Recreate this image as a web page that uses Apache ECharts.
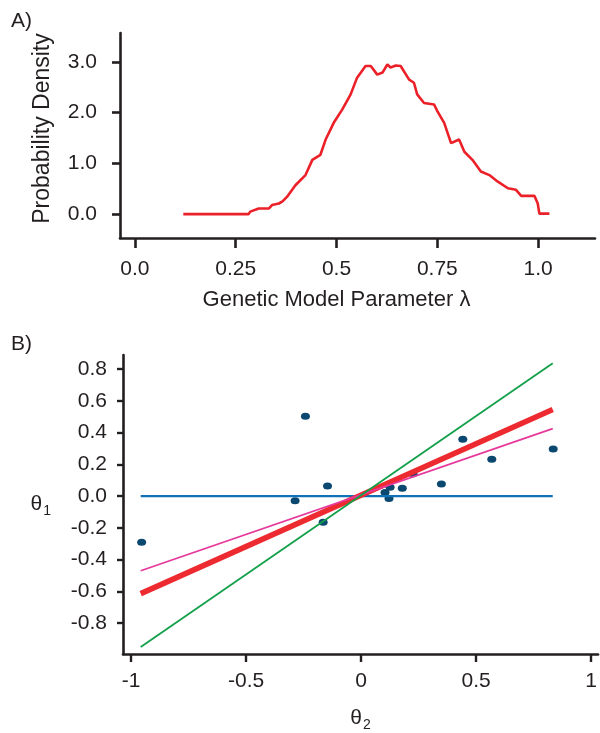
<!DOCTYPE html>
<html>
<head>
<meta charset="utf-8">
<script src="https://cdn.jsdelivr.net/npm/echarts@6/dist/echarts.min.js"></script>
<style>html,body{margin:0;padding:0;background:#fff}#c{width:600px;height:733px}</style>
</head>
<body>
<div id="c"></div>
<script>
// Panel A: posterior density of lambda
const lambdaVals = [0.12, 0.282, 0.286, 0.307, 0.332, 0.34, 0.357, 0.366, 0.377, 0.398, 0.423, 0.44, 0.46, 0.473, 0.493, 0.514, 0.535, 0.551, 0.572, 0.585, 0.601, 0.614, 0.626, 0.634, 0.647, 0.659, 0.68, 0.692, 0.70, 0.717, 0.742, 0.75, 0.767, 0.784, 0.804, 0.817, 0.837, 0.858, 0.879, 0.90, 0.925, 0.945, 0.958, 0.991, 0.999, 1.003, 1.028];
const densityVals = [0, 0, 0.05, 0.11, 0.11, 0.18, 0.21, 0.25, 0.34, 0.57, 0.77, 1.07, 1.17, 1.47, 1.80, 2.06, 2.36, 2.69, 2.92, 2.92, 2.75, 2.79, 2.95, 2.89, 2.93, 2.92, 2.65, 2.59, 2.36, 2.19, 2.16, 2.03, 1.80, 1.40, 1.47, 1.23, 1.07, 0.84, 0.77, 0.64, 0.51, 0.48, 0.36, 0.36, 0.21, 0.01, 0.01];
const aXTicks = [0, 0.25, 0.5, 0.75, 1.0];
const aXTickLabels = ['0.0', '0.25', '0.5', '0.75', '1.0'];
const aYTicks = [0, 1, 2, 3];
const aYTickLabels = ['0.0', '1.0', '2.0', '3.0'];

// Panel B: scatter of theta2 vs theta1 and fitted lines
const theta2Pts = [-0.954, -0.287, -0.242, -0.165, -0.146, 0.104, 0.121, 0.126, 0.179, 0.226, 0.349, 0.442, 0.568, 0.835];
const theta1Pts = [-0.29, -0.03, 0.503, -0.165, 0.064, 0.022, -0.016, 0.055, 0.049, 0.14, 0.076, 0.358, 0.232, 0.296];
const lineX = [-0.958, 0.833];
const blueLineY = [0, 0];
const redLineY = [-0.614, 0.545];
const pinkLineY = [-0.47, 0.425];
const greenLineY = [-0.95, 0.836];
const bXTicks = [-1, -0.5, 0, 0.5, 1];
const bXTickLabels = ['-1', '-0.5', '0', '0.5', '1'];
const bYTicks = [-0.8, -0.6, -0.4, -0.2, 0, 0.2, 0.4, 0.6, 0.8];
const bYTickLabels = ['-0.8', '-0.6', '-0.4', '-0.2', '0.0', '0.2', '0.4', '0.6', '0.8'];

const FONT = '"Liberation Sans", Arial, Helvetica, sans-serif';
const INK = '#231f20';

function lbl(values, labels) {
  return function (v) {
    for (let i = 0; i < values.length; i++) if (Math.abs(values[i] - v) < 1e-6) return labels[i];
    return '';
  };
}
function pairs(xs, ys) { return xs.map((x, i) => [x, ys[i]]); }

const axisLineStyle = { show: true, onZero: false, lineStyle: { color: INK, width: 2.6 } };

const chart = echarts.init(document.getElementById('c'), null, { renderer: 'canvas' });
chart.setOption({
  animation: false,
  backgroundColor: '#fff',
  textStyle: { fontFamily: FONT },
  graphic: [
    { type: 'text', left: 11, top: 11, style: { text: 'A)', font: '21px ' + FONT, fill: INK } },
    { type: 'text', left: 11, top: 334, style: { text: 'B)', font: '21px ' + FONT, fill: INK } }
  ],
  grid: [
    { left: 120, top: 33, width: 475, height: 205 },
    { left: 123, top: 355, width: 477, height: 302 }
  ],
  xAxis: [
    {
      gridIndex: 0, type: 'value', min: -0.037, max: 1.141,
      axisLine: axisLineStyle,
      axisTick: { show: true, customValues: aXTicks, length: 10, lineStyle: { color: INK, width: 2.6 } },
      axisLabel: { customValues: aXTicks, formatter: lbl(aXTicks, aXTickLabels), margin: 21, fontSize: 21, color: INK, fontFamily: FONT },
      splitLine: { show: false },
      name: 'Genetic Model Parameter λ', nameLocation: 'middle', nameGap: 51,
      nameTextStyle: { fontSize: 22, color: INK, fontFamily: FONT, padding: [0, 42, 0, 0] }
    },
    {
      gridIndex: 1, type: 'value', min: -1.035, max: 1.03,
      axisLine: axisLineStyle,
      axisTick: { show: true, customValues: bXTicks, length: 8, lineStyle: { color: INK, width: 2.4 } },
      axisLabel: { customValues: bXTicks, formatter: lbl(bXTicks, bXTickLabels), margin: 17, fontSize: 21, color: INK, fontFamily: FONT },
      splitLine: { show: false },
      name: '{t|θ}{s|2}', nameLocation: 'middle', nameGap: 50,
      nameTextStyle: { color: INK, fontFamily: FONT, rich: { t: { fontSize: 21, color: INK }, s: { fontSize: 14, color: INK, padding: [14, 0, 0, 1] } } }
    }
  ],
  yAxis: [
    {
      gridIndex: 0, type: 'value', min: -0.47, max: 3.57,
      axisLine: axisLineStyle,
      axisTick: { show: true, customValues: aYTicks, length: 8, lineStyle: { color: INK, width: 2.6 } },
      axisLabel: { customValues: aYTicks, formatter: lbl(aYTicks, aYTickLabels), margin: 23, fontSize: 21, color: INK, fontFamily: FONT },
      splitLine: { show: false },
      name: 'Probability Density', nameLocation: 'middle', nameGap: 66, nameRotate: 90,
      nameTextStyle: { fontSize: 23, color: INK, fontFamily: FONT, padding: [0, 0, 0, 14] }
    },
    {
      gridIndex: 1, type: 'value', min: -0.994, max: 0.888,
      axisLine: axisLineStyle,
      axisTick: { show: true, customValues: bYTicks, length: 6, lineStyle: { color: INK, width: 2.4 } },
      axisLabel: { customValues: bYTicks, formatter: lbl(bYTicks, bYTickLabels), margin: 16, fontSize: 21, color: INK, fontFamily: FONT },
      splitLine: { show: false },
      name: '{t|θ}{s|1}', nameLocation: 'middle', nameGap: 72, nameRotate: 0,
      nameTextStyle: { color: INK, fontFamily: FONT, rich: { t: { fontSize: 21, color: INK }, s: { fontSize: 14, color: INK, padding: [14, 0, 0, 1] } } }
    }
  ],
  series: [
    {
      type: 'line', xAxisIndex: 0, yAxisIndex: 0, data: pairs(lambdaVals, densityVals),
      symbol: 'none', lineStyle: { color: '#ec2028', width: 2.6 }, z: 3
    },
    {
      type: 'scatter', xAxisIndex: 1, yAxisIndex: 1, data: pairs(theta2Pts, theta1Pts),
      symbol: 'circle', symbolSize: [9, 7], itemStyle: { color: '#0b4870', opacity: 1 }, z: 2
    },
    {
      type: 'line', xAxisIndex: 1, yAxisIndex: 1, data: pairs(lineX, blueLineY),
      symbol: 'none', lineStyle: { color: '#1070b8', width: 2.2 }, z: 3
    },
    {
      type: 'line', xAxisIndex: 1, yAxisIndex: 1, data: pairs(lineX, redLineY),
      symbol: 'none', lineStyle: { color: '#ed2a2f', width: 5.5 }, z: 4
    },
    {
      type: 'line', xAxisIndex: 1, yAxisIndex: 1, data: pairs(lineX, pinkLineY),
      symbol: 'none', lineStyle: { color: '#e6399b', width: 1.8 }, z: 5
    },
    {
      type: 'line', xAxisIndex: 1, yAxisIndex: 1, data: pairs(lineX, greenLineY),
      symbol: 'none', lineStyle: { color: '#13a04b', width: 1.8 }, z: 6
    }
  ]
});
</script>
</body>
</html>
